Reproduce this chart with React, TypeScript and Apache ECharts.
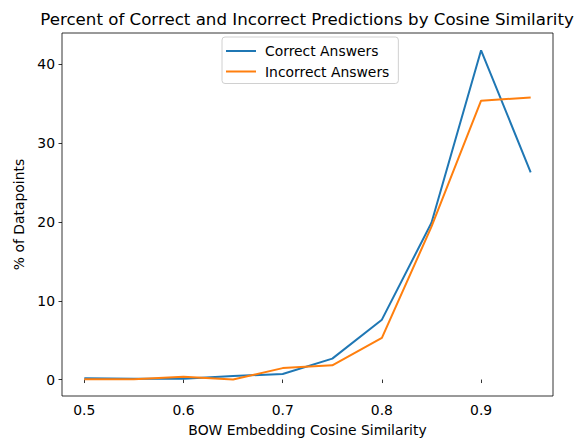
import React, { useEffect, useRef } from "react";
import * as echarts from "echarts";

const xValues = [0.5, 0.55, 0.6, 0.65, 0.7, 0.75, 0.8, 0.85, 0.9, 0.95];
const correctAnswers = [0.15, 0.1, 0.1, 0.45, 0.7, 2.65, 7.6, 19.9, 41.8, 26.3];
const incorrectAnswers = [0.05, 0.05, 0.35, 0.0, 1.45, 1.8, 5.3, 19.4, 35.4, 35.8];
const xTicks = [0.5, 0.6, 0.7, 0.8, 0.9];
const yTicks = [0, 10, 20, 30, 40];

const FONT = "DejaVu Sans";

export default function App() {
  const ref = useRef<HTMLDivElement>(null);
  useEffect(() => {
    if (!ref.current) return;
    const chart = echarts.init(ref.current, undefined, { renderer: "svg" });
    const axisText = { color: "#000", fontSize: 13.9, fontFamily: FONT };
    chart.setOption({
      animation: false,
      backgroundColor: "#fff",
      title: {
        text: "Percent of Correct and Incorrect Predictions by Cosine Similarity",
        left: 302,
        textAlign: "center",
        top: 6,
        textStyle: { color: "#000", fontSize: 16.67, fontWeight: "normal", fontFamily: FONT },
      },
      legend: {
        orient: "vertical",
        left: 222,
        top: 37,
        padding: [6, 9, 4, 4],
        itemGap: 4.5,
        itemWidth: 30,
        itemHeight: 2,
        icon: "rect",
        borderColor: "#d0d0d0",
        borderWidth: 1,
        borderRadius: 3,
        backgroundColor: "rgba(255,255,255,0.8)",
        textStyle: { color: "#000", fontSize: 13.9, fontFamily: FONT, padding: [0, 0, 0, 4], lineHeight: 16 },
        data: ["Correct Answers", "Incorrect Answers"],
      },
      grid: {
        left: 62,
        right: 21,
        top: 33,
        bottom: 43,
        show: true,
        borderColor: "#000",
        borderWidth: 0.8,
        backgroundColor: "transparent",
      },
      xAxis: {
        type: "value",
        min: 0.4775,
        max: 0.9725,
        name: "BOW Embedding Cosine Similarity",
        nameLocation: "middle",
        nameGap: 27,
        nameTextStyle: axisText,
        splitLine: { show: false },
        axisLine: { show: false },
        axisTick: {
          show: true,
          length: 3.5,
          inside: false,
          customValues: xTicks,
          lineStyle: { color: "#000", width: 0.8 },
        },
        axisLabel: {
          ...axisText,
          margin: 7,
          customValues: xTicks,
          formatter: (v: number) => v.toFixed(1),
        },
      },
      yAxis: {
        type: "value",
        min: -2.09,
        max: 43.99,
        name: "% of Datapoints",
        nameLocation: "middle",
        nameGap: 35,
        nameTextStyle: axisText,
        splitLine: { show: false },
        axisLine: { show: false },
        axisTick: {
          show: true,
          length: 3.5,
          inside: false,
          customValues: yTicks,
          lineStyle: { color: "#000", width: 0.8 },
        },
        axisLabel: {
          ...axisText,
          margin: 7,
          customValues: yTicks,
          formatter: (v: number) => String(Math.round(v)),
        },
      },
      series: [
        {
          name: "Correct Answers",
          type: "line",
          symbol: "none",
          data: xValues.map((x, i) => [x, correctAnswers[i]]),
          lineStyle: { color: "#1f77b4", width: 2 },
          itemStyle: { color: "#1f77b4" },
        },
        {
          name: "Incorrect Answers",
          type: "line",
          symbol: "none",
          data: xValues.map((x, i) => [x, incorrectAnswers[i]]),
          lineStyle: { color: "#ff7f0e", width: 2 },
          itemStyle: { color: "#ff7f0e" },
        },
      ],
    });
    return () => chart.dispose();
  }, []);
  return <div ref={ref} style={{ width: 574, height: 442, position: "absolute", left: 0, top: 0 }} />;
}
